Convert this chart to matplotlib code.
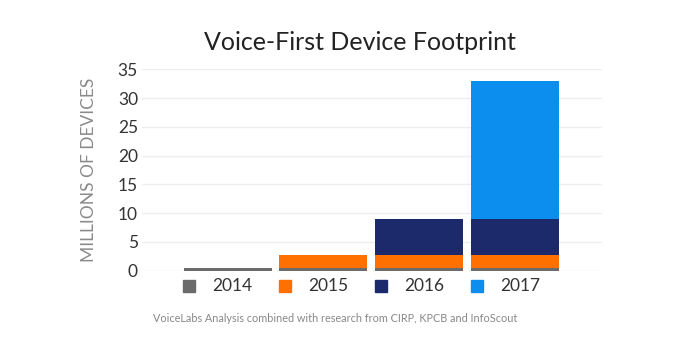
import matplotlib.pyplot as plt
import matplotlib.transforms as mtransforms
import numpy as np

plt.rcParams['font.family'] = ['Lato', 'DejaVu Sans']

years = ['2014', '2015', '2016', '2017']
# stacked layers (millions of devices), one layer per year of purchase
layer_2014 = [0.4, 0.4, 0.4, 0.4]
layer_2015 = [0.0, 2.3, 2.3, 2.3]
layer_2016 = [0.0, 0.0, 6.2, 6.2]
layer_2017 = [0.0, 0.0, 0.0, 24.1]
colors = ['#6b6b6b', '#ff7000', '#1c2a6c', '#0b8eed']

fig = plt.figure(figsize=(6.8, 3.4), dpi=100)
ax = fig.add_axes([0.209, 0.204, 0.676, 0.592])

x = np.arange(len(years))
bottom = np.zeros(len(years))
for layer, c in zip([layer_2014, layer_2015, layer_2016, layer_2017], colors):
    ax.bar(x, layer, bottom=bottom, width=0.917, color=c, zorder=3)
    bottom += np.array(layer)

ax.set_xlim(-0.89, 3.9)
ax.set_ylim(0, 35)
ax.set_yticks(range(0, 36, 5))
ax.set_xticks([])
ax.grid(axis='y', color='#eeeeee', linewidth=1, zorder=0)
for s in ax.spines.values():
    s.set_visible(False)
ax.tick_params(axis='y', length=0, pad=3, labelsize=12.5, labelcolor='#333333')
ax.set_ylabel('MILLIONS OF DEVICES', fontsize=12.5, color='#8a8a8a', labelpad=15)

# legend under the bars
trans = mtransforms.blended_transform_factory(ax.transData, ax.transAxes)
for i, (yr, c) in enumerate(zip(years, colors)):
    ax.plot(i - 0.40, -0.075, marker='s', markersize=8, color=c, transform=trans,
            clip_on=False, linestyle='none')
    ax.text(i - 0.163, -0.075, yr, transform=trans, fontsize=12.5, color='#333333',
            va='center', ha='left')

fig.text(0.53, 0.875, 'Voice-First Device Footprint', ha='center', va='center',
         fontsize=18, color='#222222')
fig.text(0.225, 0.062, 'VoiceLabs Analysis combined with research from CIRP, KPCB and InfoScout',
         fontsize=7.8, color='#888888', ha='left', va='center')

fig.savefig('out.png', dpi=100, facecolor='white')
